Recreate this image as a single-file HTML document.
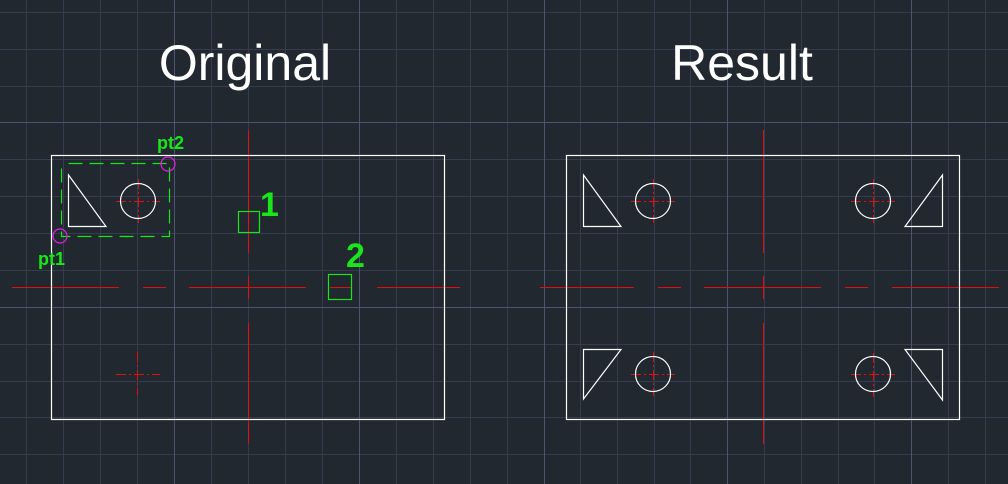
<!DOCTYPE html>
<html><head><meta charset="utf-8"><style>
html,body{margin:0;padding:0;background:#212830;}
svg{display:block}
</style></head><body>
<svg width="1008" height="484" viewBox="0 0 1008 484" xmlns="http://www.w3.org/2000/svg">
<rect width="1008" height="484" fill="#212830"/>
<g stroke="#363c4e" stroke-width="1" shape-rendering="crispEdges">
<line x1="26.5" y1="0" x2="26.5" y2="484"/><line x1="63.5" y1="0" x2="63.5" y2="484"/><line x1="100.5" y1="0" x2="100.5" y2="484"/><line x1="137.5" y1="0" x2="137.5" y2="484"/>
<line x1="211.5" y1="0" x2="211.5" y2="484"/><line x1="248.5" y1="0" x2="248.5" y2="484"/><line x1="285.5" y1="0" x2="285.5" y2="484"/><line x1="322.5" y1="0" x2="322.5" y2="484"/>
<line x1="396.5" y1="0" x2="396.5" y2="484"/><line x1="433.5" y1="0" x2="433.5" y2="484"/><line x1="470.5" y1="0" x2="470.5" y2="484"/><line x1="507.5" y1="0" x2="507.5" y2="484"/>
<line x1="580.5" y1="0" x2="580.5" y2="484"/><line x1="617.5" y1="0" x2="617.5" y2="484"/><line x1="654.5" y1="0" x2="654.5" y2="484"/><line x1="690.5" y1="0" x2="690.5" y2="484"/>
<line x1="764.5" y1="0" x2="764.5" y2="484"/><line x1="801.5" y1="0" x2="801.5" y2="484"/><line x1="838.5" y1="0" x2="838.5" y2="484"/><line x1="874.5" y1="0" x2="874.5" y2="484"/>
<line x1="948.5" y1="0" x2="948.5" y2="484"/><line x1="985.5" y1="0" x2="985.5" y2="484"/>
<line x1="0" y1="12.5" x2="1008" y2="12.5"/><line x1="0" y1="49.5" x2="1008" y2="49.5"/><line x1="0" y1="86.5" x2="1008" y2="86.5"/>
<line x1="0" y1="159.5" x2="1008" y2="159.5"/><line x1="0" y1="196.5" x2="1008" y2="196.5"/><line x1="0" y1="233.5" x2="1008" y2="233.5"/><line x1="0" y1="270.5" x2="1008" y2="270.5"/>
<line x1="0" y1="344.5" x2="1008" y2="344.5"/><line x1="0" y1="381.5" x2="1008" y2="381.5"/><line x1="0" y1="417.5" x2="1008" y2="417.5"/><line x1="0" y1="454.5" x2="1008" y2="454.5"/>
</g>
<g stroke="#4f5570" stroke-width="1.3" shape-rendering="crispEdges">
<line x1="174.5" y1="0" x2="174.5" y2="484"/><line x1="359.5" y1="0" x2="359.5" y2="484"/><line x1="544.5" y1="0" x2="544.5" y2="484"/><line x1="727.5" y1="0" x2="727.5" y2="484"/><line x1="911.5" y1="0" x2="911.5" y2="484"/>
<line x1="0" y1="122.5" x2="1008" y2="122.5"/><line x1="0" y1="307.5" x2="1008" y2="307.5"/>
</g>
<text x="245" y="80" font-family="Liberation Sans, sans-serif" font-size="50" fill="#fff" text-anchor="middle">Original</text>
<text x="742" y="80" font-family="Liberation Sans, sans-serif" font-size="50" fill="#fff" text-anchor="middle">Result</text>

<!-- red centerlines -->
<g stroke="#e01010" stroke-width="1" fill="none">
<path d="M248.5 130V253M248.5 276V299M248.5 323V444"/>
<path d="M12 287.5H119M143 287.5H166M189 287.5H306M330 287.5H351M377 287.5H460"/>
<path d="M763.5 130V253M763.5 276V299M763.5 323V444"/>
<path d="M540 287.5H634M658 287.5H681M704 287.5H821M845 287.5H868M892 287.5H999"/>
<path d="M116 201.5H160M138.5 179V223M116 374.5H160M137.5 352V395" stroke-dasharray="10 3 2 3"/>
<path d="M631 201.5H675M653.5 179V223M851 201.5H895M873.5 179V223M631 374.5H675M653.5 352V396M851 374.5H895M873.5 353V397" stroke-dasharray="10 3 2 3"/>
</g>

<!-- white geometry -->
<g stroke="#fff" stroke-width="1.2" fill="none">
<rect x="51.5" y="155.5" width="393" height="264"/>
<path d="M68.5 175V226.5H106Z"/>
<circle cx="138" cy="201" r="17.5"/>
<rect x="566.5" y="155.5" width="393" height="264"/>
<path d="M583.5 175V226.5H621Z"/>
<circle cx="653" cy="201" r="17.5"/>
<path d="M942.5 175V226.5H905Z"/>
<circle cx="873" cy="201" r="17.5"/>
<path d="M583.5 399V349.5H621Z"/>
<circle cx="653" cy="374" r="17.5"/>
<path d="M942.5 400V349.5H905Z"/>
<circle cx="873" cy="374" r="17.5"/>
</g>

<!-- green -->
<g stroke="#19e619" stroke-width="1.2" fill="none">
<rect x="61.5" y="163.5" width="108" height="73" stroke-dasharray="14 7" stroke-dashoffset="-7"/>
<rect x="238.5" y="211.5" width="21" height="21"/>
<rect x="328.5" y="274.5" width="23" height="25"/>
</g>
<g stroke="#e020e0" stroke-width="1.2" fill="none">
<circle cx="168" cy="164" r="7"/>
<circle cx="60" cy="236" r="7"/>
</g>
<g font-family="Liberation Sans, sans-serif" fill="#19e619" font-weight="bold">
<text x="157" y="149" font-size="18">pt2</text>
<text x="38" y="265" font-size="18">pt1</text>
<text x="260" y="216" font-size="34">1</text>
<text x="346" y="267" font-size="34">2</text>
</g>
</svg>
</body></html>
